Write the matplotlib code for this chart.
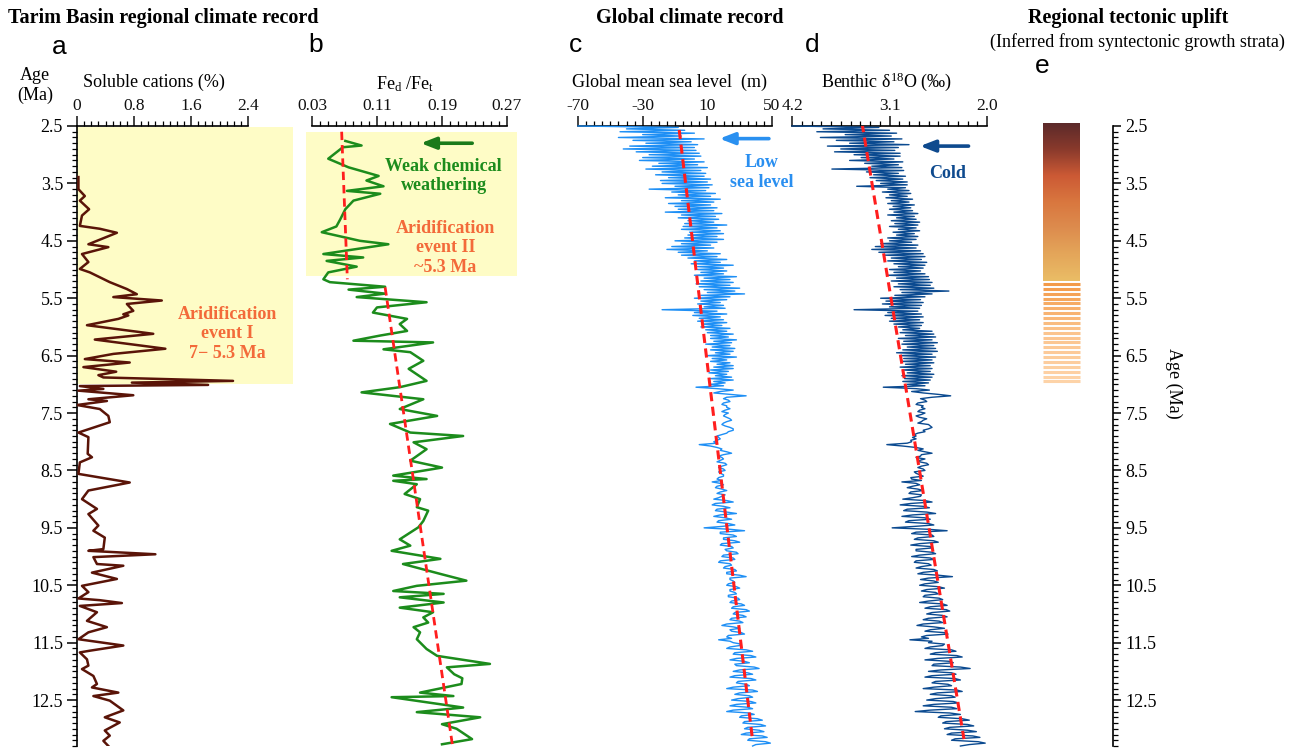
import numpy as np
import matplotlib
matplotlib.use("Agg")
import matplotlib.pyplot as plt
from matplotlib.ticker import MultipleLocator, FixedLocator, FormatStrFormatter
from matplotlib.colors import LinearSegmentedColormap

# ---------------- data ----------------
# (a) soluble cations (%)
cat_age = [3.39, 3.60, 3.72, 3.80, 3.95, 4.06, 4.24, 4.29, 4.36, 4.56,
           4.61, 4.73, 4.87, 4.99, 5.05, 5.22, 5.34, 5.43, 5.48, 5.54,
           5.60, 5.72, 5.78, 5.80, 5.86, 5.97, 6.12, 6.22, 6.38, 6.47,
           6.56, 6.62, 6.70, 6.78, 6.84, 6.88, 6.94, 6.97, 7.01, 7.03,
           7.08, 7.11, 7.19, 7.26, 7.29, 7.36, 7.43, 7.55, 7.66, 7.84,
           7.92, 8.21, 8.27, 8.36, 8.56, 8.71, 8.85, 9.00, 9.17, 9.26,
           9.46, 9.55, 9.67, 9.87, 9.90, 9.96, 10.01, 10.13, 10.16, 10.28,
           10.39, 10.51, 10.62, 10.73, 10.76, 10.81, 10.86, 10.97, 11.12, 11.23,
           11.32, 11.44, 11.55, 11.64, 11.67, 11.79, 11.90, 11.96, 12.08, 12.22,
           12.28, 12.37, 12.43, 12.51, 12.68, 12.80, 12.89, 13.03, 13.12, 13.21,
           13.30]
cat_val = [0.02, 0.02, 0.11, 0.04, 0.17, 0.07, 0.04, 0.32, 0.56, 0.16,
           0.44, 0.07, 0.16, 0.04, 0.18, 0.46, 0.70, 0.84, 0.51, 1.19,
           0.70, 0.79, 0.65, 0.72, 0.58, 0.14, 1.07, 0.25, 1.24, 0.51,
           0.11, 0.74, 0.09, 0.55, 0.30, 0.37, 2.19, 0.77, 1.84, 0.04,
           0.37, 0.02, 0.79, 0.16, 0.42, 0.00, 0.32, 0.44, 0.46, 0.02,
           0.16, 0.15, 0.21, 0.04, 0.02, 0.74, 0.16, 0.07, 0.28, 0.16,
           0.30, 0.23, 0.39, 0.37, 0.16, 1.10, 0.23, 0.28, 0.65, 0.21,
           0.56, 0.07, 0.16, 0.02, 0.32, 0.63, 0.04, 0.28, 0.14, 0.42,
           0.16, 0.02, 0.65, 0.18, 0.04, 0.14, 0.16, 0.07, 0.23, 0.28,
           0.21, 0.58, 0.23, 0.46, 0.65, 0.39, 0.60, 0.39, 0.46, 0.37,
           0.44]

# (b) Fed/Fet
fe_age = [2.76, 2.84, 2.87, 3.07, 3.22, 3.37, 3.45, 3.55, 3.63, 3.68,
          3.80, 3.95, 4.12, 4.25, 4.35, 4.50, 4.56, 4.73, 4.79, 4.85,
          4.95, 5.05, 5.17, 5.22, 5.30, 5.35, 5.42, 5.48, 5.57, 5.66,
          5.75, 5.86, 5.95, 6.07, 6.15, 6.24, 6.27, 6.39, 6.44, 6.59,
          6.73, 6.94, 7.05, 7.14, 7.26, 7.43, 7.55, 7.69, 7.84, 7.90,
          8.01, 8.13, 8.33, 8.45, 8.59, 8.65, 8.68, 8.74, 8.91, 9.00,
          9.14, 9.20, 9.38, 9.49, 9.70, 9.81, 9.90, 10.04, 10.13, 10.31,
          10.42, 10.51, 10.60, 10.65, 10.71, 10.80, 10.89, 10.97, 11.06, 11.15,
          11.23, 11.32, 11.44, 11.61, 11.73, 11.87, 11.93, 12.05, 12.12, 12.22,
          12.37, 12.43, 12.45, 12.63, 12.71, 12.80, 12.92, 13.00, 13.18, 13.27]
fe_val = [0.071, 0.091, 0.068, 0.050, 0.075, 0.112, 0.097, 0.118, 0.073, 0.114,
          0.081, 0.071, 0.065, 0.060, 0.042, 0.089, 0.124, 0.044, 0.093, 0.048,
          0.085, 0.050, 0.044, 0.052, 0.120, 0.075, 0.120, 0.085, 0.171, 0.110,
          0.105, 0.147, 0.138, 0.147, 0.114, 0.081, 0.179, 0.118, 0.151, 0.167,
          0.149, 0.171, 0.138, 0.091, 0.167, 0.138, 0.184, 0.126, 0.151, 0.216,
          0.155, 0.171, 0.151, 0.190, 0.130, 0.171, 0.130, 0.159, 0.144, 0.163,
          0.159, 0.173, 0.167, 0.161, 0.138, 0.151, 0.128, 0.188, 0.142, 0.190,
          0.220, 0.159, 0.130, 0.192, 0.138, 0.192, 0.138, 0.179, 0.167, 0.173,
          0.155, 0.163, 0.159, 0.171, 0.184, 0.249, 0.196, 0.205, 0.215, 0.214,
          0.163, 0.204, 0.128, 0.216, 0.159, 0.237, 0.190, 0.208, 0.227, 0.190]
fe_trend1_age = [2.60, 5.17]
fe_trend1_val = [0.0665, 0.0735]
fe_trend2_age = [5.31, 13.30]
fe_trend2_val = [0.120, 0.203]

# (c) global mean sea level (m) and (d) benthic d18O, sampled every 0.025 Ma
glob_age = np.round(np.arange(2.500, 13.3001, 0.025), 3)
sl_val = [
    -70, -8, -40, -4, -44, 2, -30, -6, -45, 8, -36, 0, -28, 4, -38, 2, -42, 3, -34, 5,
    -26, 6, -30, 2, -32, 8, -20, 4, -24, 10, -28, 6, -18, 9, -22, 8, -14, 12, -19, 10,
    -18, 13, -10, 11, -26, 9, -12, 15, -8, 12, -16, 18, -6, 14, -14, 12, -10, 16, -8, 14,
    -16, 19, -6, 15, -8, 17, -2, 14, -4, 22, -5, 16, -6, 18, -1, 20, -2, 16, -4, 20,
    -10, 16, -6, 12, -12, 14, -15, 10, -8, 18, -6, 16, -2, 22, 2, 18, 0, 26, 4, 20,
    4, 22, 6, 20, 2, 28, 8, 24, 6, 26, 3, 24, 5, 30, 8, 27, 10, 33, 6, 24,
    2, 22, 6, 18, 4, 20, 8, 21, -18, 16, 2, 22, 1, 18, 5, 20, 4, 22, 7, 19,
    6, 24, 9, 22, 10, 26, 12, 23, 12, 28, 14, 25, 9, 24, 13, 27, 12, 26, 15, 24,
    10, 28, 13, 22, 12, 24, 16, 26, 14, 26, 12, 23, 11, 22, 15, 25, 12, 26, 14, 21,
    12, 20, 3, 16, 26, 18, 14, 24, 34, 22, 20, 23, 24, 20, 19, 22, 22, 24, 21, 19,
    23, 21, 20, 22, 24, 25, 22, 20, 19, 21, 24, 26, 26, 23, 22, 19, 16, 17, 18, 16,
    14, 16, 5, 12, 16, 19, 18, 22, 25, 20, 17, 19, 20, 18, 16, 21, 22, 19, 17, 20,
    21, 17, 18, 20, 20, 17, 16, 19, 13, 18, 20, 16, 15, 19, 22, 18, 16, 21, 19, 17,
    14, 22, 26, 15, 13, 20, 24, 16, 15, 22, 28, 18, 14, 21, 25, 17, 16, 23, 27, 19,
    8, 24, 33, 18, 18, 26, 28, 20, 20, 27, 30, 19, 18, 25, 26, 21, 22, 28, 29, 20,
    19, 26, 27, 18, 17, 24, 25, 21, 20, 27, 28, 22, 22, 30, 34, 24, 24, 26, 27, 23,
    22, 28, 30, 24, 24, 27, 28, 23, 23, 29, 30, 25, 24, 31, 33, 26, 25, 34, 36, 27,
    26, 32, 34, 25, 24, 30, 32, 22, 19, 26, 30, 24, 25, 31, 33, 23, 22, 25, 17, 24,
    26, 31, 30, 24, 22, 34, 38, 27, 26, 37, 40, 28, 24, 33, 36, 27, 28, 39, 42, 30,
    26, 35, 38, 27, 24, 37, 40, 29, 28, 34, 36, 26, 22, 38, 41, 30, 27, 36, 38, 29,
    25, 37, 40, 28, 24, 35, 38, 26, 22, 36, 39, 31, 30, 41, 44, 33, 32, 43, 46, 35,
    33, 42, 45, 34, 31, 44, 47, 36, 35, 46, 49, 40, 38]
d18o_val = [
    4.20, 3.22, 3.85, 3.10, 3.92, 3.02, 3.60, 3.08, 3.88, 2.96, 3.70, 3.05, 3.55, 2.88, 3.80, 3.00, 3.65, 3.04, 3.72, 2.98,
    3.50, 2.98, 3.42, 3.05, 3.55, 2.95, 3.38, 3.00, 3.30, 2.96, 3.75, 2.94, 3.36, 3.00, 3.28, 2.92, 3.32, 2.95, 3.25, 2.90,
    3.20, 2.90, 3.47, 2.92, 3.12, 2.88, 3.18, 2.86, 3.10, 2.90, 3.14, 2.84, 3.08, 2.88, 3.12, 2.82, 3.06, 2.86, 3.10, 2.84,
    3.05, 2.78, 3.12, 2.82, 3.02, 2.80, 3.08, 2.76, 3.04, 2.78, 3.10, 2.80, 3.00, 2.76, 3.06, 2.82, 3.02, 2.78, 3.12, 2.80,
    3.10, 2.85, 3.20, 2.78, 3.26, 2.80, 3.30, 2.75, 3.22, 2.72, 3.15, 2.70, 3.08, 2.74, 3.12, 2.68, 3.05, 2.70, 3.00, 2.72,
    3.10, 2.75, 3.05, 2.70, 3.12, 2.66, 3.02, 2.65, 3.08, 2.62, 3.00, 2.64, 3.05, 2.60, 2.98, 2.43, 2.96, 2.62, 3.04, 2.70,
    3.20, 2.75, 3.14, 2.72, 3.18, 2.74, 3.10, 2.76, 3.50, 2.78, 3.12, 2.74, 3.15, 2.72, 3.08, 2.76, 3.10, 2.72, 3.05, 2.74,
    3.00, 2.76, 2.95, 2.62, 2.98, 2.60, 2.92, 2.58, 3.00, 2.62, 2.94, 2.56, 2.96, 2.60, 2.90, 2.58, 2.95, 2.56, 3.02, 2.62,
    2.98, 2.58, 2.94, 2.62, 2.96, 2.60, 2.92, 2.64, 2.98, 2.62, 2.95, 2.64, 2.90, 2.60, 2.96, 2.62, 2.93, 2.64, 2.95, 2.66,
    2.90, 2.70, 3.17, 2.80, 2.65, 2.85, 2.72, 2.55, 2.41, 2.62, 2.75, 2.70, 2.68, 2.78, 2.80, 2.72, 2.74, 2.70, 2.76, 2.78,
    2.70, 2.74, 2.80, 2.76, 2.68, 2.72, 2.74, 2.78, 2.66, 2.64, 2.62, 2.66, 2.72, 2.70, 2.78, 2.82, 2.80, 2.84, 2.80, 2.86,
    2.85, 2.90, 3.13, 2.95, 2.80, 2.72, 2.78, 2.70, 2.62, 2.74, 2.75, 2.80, 2.70, 2.76, 2.76, 2.68, 2.66, 2.74, 2.78, 2.72,
    2.70, 2.82, 2.80, 2.76, 2.72, 2.86, 2.85, 2.74, 2.96, 2.80, 2.76, 2.84, 2.90, 2.78, 2.72, 2.86, 2.88, 2.74, 2.75, 2.84,
    2.95, 2.70, 2.62, 2.86, 2.98, 2.72, 2.65, 2.90, 2.94, 2.68, 2.58, 2.84, 2.96, 2.70, 2.64, 2.88, 2.92, 2.66, 2.60, 2.82,
    3.07, 2.66, 2.45, 2.80, 2.85, 2.62, 2.60, 2.78, 2.82, 2.60, 2.55, 2.76, 2.86, 2.64, 2.62, 2.80, 2.80, 2.62, 2.58, 2.76,
    2.85, 2.64, 2.60, 2.80, 2.82, 2.66, 2.63, 2.74, 2.80, 2.60, 2.56, 2.72, 2.78, 2.55, 2.39, 2.66, 2.75, 2.60, 2.55, 2.70,
    2.76, 2.55, 2.48, 2.68, 2.74, 2.58, 2.55, 2.70, 2.72, 2.54, 2.50, 2.66, 2.76, 2.50, 2.45, 2.64, 2.70, 2.46, 2.42, 2.62,
    2.68, 2.50, 2.45, 2.66, 2.72, 2.54, 2.50, 2.72, 2.79, 2.60, 2.48, 2.64, 2.70, 2.48, 2.44, 2.68, 2.74, 2.66, 2.87, 2.62,
    2.66, 2.48, 2.50, 2.64, 2.70, 2.40, 2.35, 2.58, 2.64, 2.34, 2.28, 2.56, 2.70, 2.42, 2.38, 2.60, 2.62, 2.30, 2.19, 2.52,
    2.66, 2.40, 2.35, 2.62, 2.70, 2.36, 2.30, 2.58, 2.62, 2.44, 2.40, 2.60, 2.72, 2.34, 2.28, 2.56, 2.64, 2.40, 2.36, 2.58,
    2.68, 2.38, 2.32, 2.60, 2.72, 2.40, 2.34, 2.64, 2.81, 2.42, 2.30, 2.52, 2.55, 2.28, 2.20, 2.46, 2.50, 2.22, 2.15, 2.42,
    2.48, 2.22, 2.12, 2.40, 2.45, 2.16, 2.08, 2.36, 2.40, 2.10, 2.02, 2.20, 2.30]
sl_trend_age = [2.57, 13.18]
sl_trend_val = [-7.4, 37.9]
d18o_trend_age = [2.45, 13.18]
d18o_trend_val = [3.41, 2.26]

# (e) regional tectonic uplift
uplift_solid = (2.45, 5.20)      # continuous uplift (gradient)
uplift_hatched = (5.25, 6.95)    # inferred onset interval (stripes)
uplift_colors = ["#5c2a2a", "#8a3a2c", "#cc5a35", "#d9773f", "#dd8c4e", "#e4a65a", "#eabd66"]

age_ticks = [2.5, 3.5, 4.5, 5.5, 6.5, 7.5, 8.5, 9.5, 10.5, 11.5, 12.5]
age_range = (13.3, 2.5)

# ---------------- style ----------------
plt.rcParams["font.family"] = ["Liberation Serif", "DejaVu Serif"]
plt.rcParams["mathtext.fontset"] = "custom"
plt.rcParams["mathtext.rm"] = "Liberation Serif"
plt.rcParams["mathtext.it"] = "Liberation Serif:italic"
plt.rcParams["mathtext.bf"] = "Liberation Serif:bold"

W, H = 1301, 754
fig = plt.figure(figsize=(W / 100, H / 100), dpi=100)
TOP, BOT = 126, 746


def add_panel(lpx, rpx):
    return fig.add_axes([lpx / W, 1 - BOT / H, (rpx - lpx) / W, (BOT - TOP) / H])


def fx(px):
    return px / W


def fy(py):
    return 1 - py / H


def style_top(ax, xlim, majors, minor, fmt):
    ax.set_xlim(*xlim)
    ax.set_ylim(*age_range)
    ax.xaxis.tick_top()
    ax.xaxis.set_major_locator(FixedLocator(majors))
    ax.xaxis.set_minor_locator(minor)
    ax.xaxis.set_major_formatter(FormatStrFormatter(fmt))
    ax.tick_params(axis="x", which="major", direction="out", length=7, width=1.1,
                   labelsize=12.5, pad=2, colors="#111111")
    ax.tick_params(axis="x", which="minor", direction="out", length=3.5, width=0.9)
    for s in ["left", "right", "bottom"]:
        ax.spines[s].set_visible(False)
    ax.spines["top"].set_linewidth(1.2)
    ax.tick_params(axis="y", which="both", left=False, labelleft=False)
    ax.patch.set_alpha(0)


yellow = "#fefcc6"
orange_txt = "#f36a3a"
red_dash = "#ff1e1e"

# ---- panel a ----
axa = add_panel(77, 248)
style_top(axa, (0, 2.4), [0, 0.8, 1.6, 2.4], MultipleLocator(0.1), "%g")
axa.spines["left"].set_visible(True)
axa.spines["left"].set_linewidth(1.2)
axa.yaxis.set_major_locator(FixedLocator(age_ticks))
axa.yaxis.set_minor_locator(MultipleLocator(0.1))
axa.yaxis.set_major_formatter(FormatStrFormatter("%.1f"))
axa.tick_params(axis="y", which="major", left=True, labelleft=True, direction="out",
                length=7, width=1.1, labelsize=13, pad=3)
axa.tick_params(axis="y", which="minor", left=True, direction="out", length=3.5, width=0.9)
axa.fill_between([0, 3.03], 2.52, 7.0, color=yellow, lw=0, zorder=0, clip_on=False)
axa.plot(cat_val, cat_age, color="#5a1408", lw=1.8, zorder=3)
axa.text(2.11, 6.12, "Aridification\nevent I\n7\u2212 5.3 Ma", color=orange_txt,
         fontsize=13, fontweight="bold", ha="center", va="center", linespacing=1.2,
         clip_on=False)

# ---- panel b ----
axb = add_panel(312, 507)
style_top(axb, (0.03, 0.27), [0.03, 0.11, 0.19, 0.27], MultipleLocator(0.01), "%.2f")
axb.fill_between([0.0226, 0.282], 2.6, 5.12, color=yellow, lw=0, zorder=0, clip_on=False)
axb.plot(fe_val, fe_age, color="#1c8c1c", lw=1.8, zorder=3, clip_on=False)
axb.plot(fe_trend1_val, fe_trend1_age, color=red_dash, lw=2.0, ls=(0, (3, 1.8)), zorder=4)
axb.plot(fe_trend2_val, fe_trend2_age, color=red_dash, lw=2.0, ls=(0, (3, 1.8)), zorder=4,
         clip_on=False)
axb.annotate("", xy=(0.1605, 2.80), xytext=(0.2306, 2.80),
             arrowprops=dict(arrowstyle="-|>,head_length=0.9,head_width=0.35",
                             color="#1a7a1a", lw=2.6), annotation_clip=False)
axb.text(0.192, 3.37, "Weak chemical\nweathering", color="#1c8c1c", fontsize=13,
         fontweight="bold", ha="center", va="center", linespacing=1.15, clip_on=False)
axb.text(0.194, 4.62, "Aridification\nevent II\n~5.3 Ma", color=orange_txt, fontsize=13,
         fontweight="bold", ha="center", va="center", linespacing=1.2, clip_on=False)

# ---- panel c ----
axc = add_panel(578, 772)
style_top(axc, (-70, 50), [-70, -30, 10, 50], MultipleLocator(5), "%g")
axc.plot(sl_val, glob_age, color="#1e8ff5", lw=1.0, zorder=3, clip_on=False)
axc.plot(sl_trend_val, sl_trend_age, color=red_dash, lw=2.2, ls=(0, (3, 1.8)), zorder=4)
axc.annotate("", xy=(15.8, 2.72), xytext=(49.8, 2.72),
             arrowprops=dict(arrowstyle="-|>,head_length=0.9,head_width=0.35",
                             color="#2a90f0", lw=2.6), annotation_clip=False)
axc.text(43.6, 3.31, "Low\nsea level", color="#2a8ff0", fontsize=13, fontweight="bold",
         ha="center", va="center", linespacing=1.2, clip_on=False)

# ---- panel d ----
axd = add_panel(792, 987)
style_top(axd, (4.2, 2.0), [4.2, 3.1, 2.0], FixedLocator(np.linspace(2.0, 4.2, 21)), "%.1f")
axd.plot(d18o_val, glob_age, color="#0b4a90", lw=1.0, zorder=3, clip_on=False)
axd.plot(d18o_trend_val, d18o_trend_age, color=red_dash, lw=2.2, ls=(0, (3, 1.8)), zorder=4)
axd.annotate("", xy=(2.787, 2.85), xytext=(2.177, 2.85),
             arrowprops=dict(arrowstyle="-|>,head_length=0.9,head_width=0.35",
                             color="#0e4a8e", lw=2.6), annotation_clip=False)
axd.text(2.45, 3.32, "Cold", color="#0e4a8e", fontsize=13, fontweight="bold",
         ha="center", va="center", clip_on=False)

# ---- panel e ----
axe = add_panel(1043, 1113)
cmap = LinearSegmentedColormap.from_list("uplift", uplift_colors)
grad = np.linspace(0, 1, 256).reshape(-1, 1)
axe.imshow(grad, cmap=cmap, extent=(0, 37, uplift_solid[1], uplift_solid[0]),
           aspect="auto", origin="upper", interpolation="bilinear", clip_on=False)
n_str = 21
stripe_ages = np.linspace(uplift_hatched[0], uplift_hatched[1], n_str)
stripe_cmap = LinearSegmentedColormap.from_list("str", ["#f39a48", "#fbc48e", "#fdd3a8"])
for i, sa in enumerate(stripe_ages):
    axe.hlines(sa, 0, 37, color=stripe_cmap(i / (n_str - 1)), lw=2.2)
axe.set_xlim(0, 70)
axe.set_ylim(*age_range)
for s in ["left", "top", "bottom"]:
    axe.spines[s].set_visible(False)
axe.spines["right"].set_linewidth(1.2)
axe.yaxis.tick_right()
axe.yaxis.set_major_locator(FixedLocator(age_ticks))
axe.yaxis.set_minor_locator(MultipleLocator(0.1))
axe.yaxis.set_major_formatter(FormatStrFormatter("%.1f"))
axe.tick_params(axis="y", which="major", direction="out", length=6, width=1.1,
                labelsize=13, pad=3)
axe.tick_params(axis="y", which="minor", direction="out", length=3.5, width=0.9)
axe.tick_params(axis="x", which="both", bottom=False, top=False, labelbottom=False)
axe.patch.set_alpha(0)

# ---------------- headers / labels ----------------
fig.text(fx(8), fy(18), "Tarim Basin regional climate record", fontsize=14.5,
         fontweight="bold", ha="left", va="center")
fig.text(fx(690), fy(18), "Global climate record", fontsize=14.5, fontweight="bold",
         ha="center", va="center")
fig.text(fx(1128), fy(18), "Regional tectonic uplift", fontsize=14.5, fontweight="bold",
         ha="center", va="center")
fig.text(fx(1137), fy(42), "(Inferred from syntectonic growth strata)", fontsize=13,
         ha="center", va="center")

for letter, px, py in [("a", 59, 47), ("b", 316, 45), ("c", 576, 45), ("d", 812, 45),
                       ("e", 1042, 66)]:
    fig.text(fx(px), fy(py), letter, fontsize=19, family="Liberation Sans",
             ha="center", va="center")

fig.text(fx(35), fy(75), "Age", fontsize=13, ha="center", va="center")
fig.text(fx(35), fy(95), "(Ma)", fontsize=13, ha="center", va="center")
fig.text(fx(154), fy(82), "Soluble cations (%)", fontsize=13, ha="center", va="center")
fig.text(fx(405), fy(84), "Fe$_{\\rm d}$ /Fe$_{\\rm t}$", fontsize=13, ha="center", va="center")
fig.text(fx(670), fy(82), "Global mean sea level  (m)", fontsize=13, ha="center", va="center")
fig.text(fx(886), fy(82), "Benthic \u03b4$^{\\rm 18}$O (\u2030)", fontsize=13, ha="center",
         va="center")
fig.text(fx(1174), fy(383), "Age (Ma)", fontsize=13, rotation=270, ha="center", va="center")

fig.savefig("out.png", dpi=100)
